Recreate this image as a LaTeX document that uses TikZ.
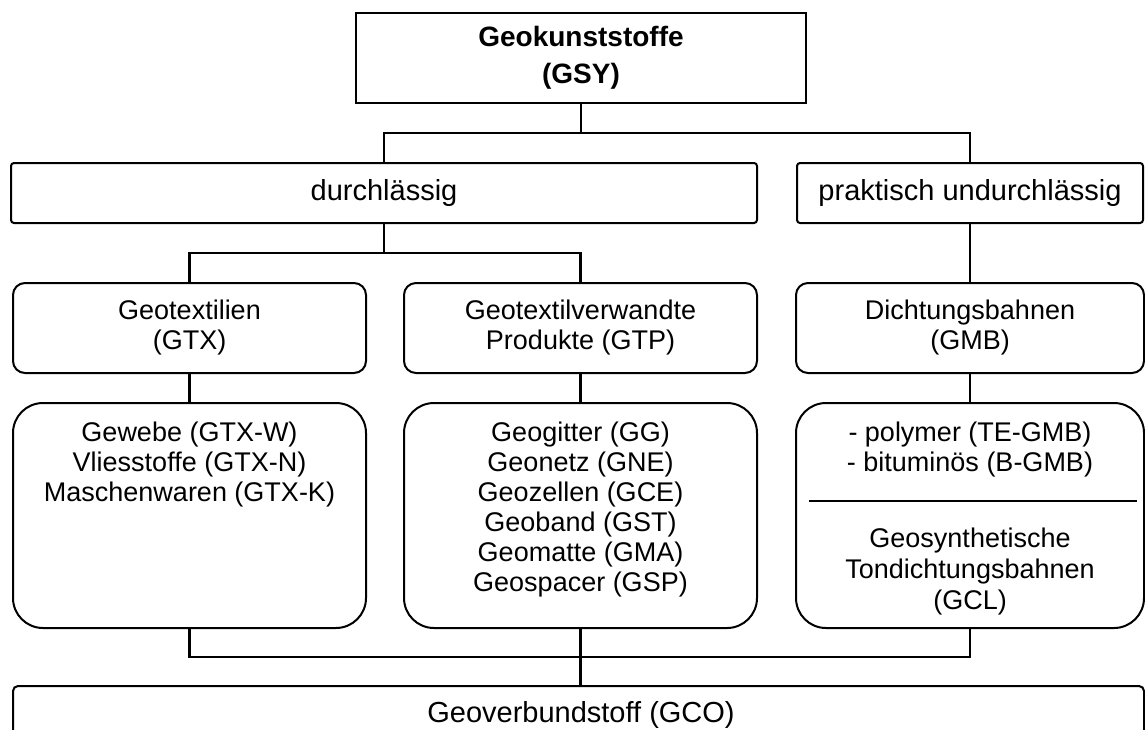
\documentclass[tikz,border=0pt]{standalone}
\usepackage{fontspec}
\setmainfont{Liberation Sans}
\newcommand\FSa{\fontsize{27}{30}\selectfont}
\newcommand\FSb{\fontsize{29}{33}\selectfont}
\newcommand\FSc{\fontsize{28}{37}\selectfont}
\begin{document}
\begin{tikzpicture}[x=1pt,y=-1pt,
  box/.style={draw, line width=2pt, inner sep=0pt, outer sep=0pt, align=center},
  rowone/.style={box, rounded corners=3pt, minimum height=60pt, font=\FSb},
  rowtwo/.style={box, rounded corners=12pt, minimum width=353pt, minimum height=90pt, font=\FSa},
  rowthree/.style={box, rounded corners=30pt, minimum width=353pt, minimum height=225pt},
  txt/.style={inner sep=0pt, outer sep=0pt, align=center, font=\FSa},
  conn/.style={line width=2.4pt}]
\useasboundingbox (0,0) rectangle (1145,729);
\clip (0,0) rectangle (1145,729);

% top
\node[box, minimum width=450pt, minimum height=90pt, font=\FSc\bfseries] (gsy) at (581,58) {Geokunststoffe\\(GSY)};

% row one
\node[rowone, minimum width=746pt] (durch) at (384,193) {durchlässig};
\node[rowone, minimum width=346pt] (prak) at (970,193) {praktisch undurchlässig};

% row two
\node[rowtwo] (gtx) at (189.5,328) {Geotextilien\\(GTX)};
\node[rowtwo] (gtp) at (580.5,328) {Geotextilverwandte\\Produkte (GTP)};
\node[rowtwo, minimum width=348pt] (gmb) at (970,328) {Dichtungsbahnen\\(GMB)};

% row three
\node[rowthree] (gtxl) at (189.5,515.5) {};
\node[rowthree] (gtpl) at (580.5,515.5) {};
\node[rowthree, minimum width=348pt] (gmbl) at (970,515.5) {};

\node[txt, anchor=north] (gtxt) at ([yshift=-19pt]gtxl.north) {Gewebe (GTX-W)\\Vliesstoffe (GTX-N)\\Maschenwaren (GTX-K)};
\node[txt, anchor=north] (gtpt) at ([yshift=-19pt]gtpl.north) {Geogitter (GG)\\Geonetz (GNE)\\Geozellen (GCE)\\Geoband (GST)\\Geomatte (GMA)\\Geospacer (GSP)};
\node[txt, anchor=north] (gmbt) at ([yshift=-19pt]gmbl.north) {- polymer (TE-GMB)\\- bituminös (B-GMB)};
\path (gmbl.center) ++(-161,-14.5) coordinate (sepL) ++(328,0) coordinate (sepR);
\draw[line width=2pt] (sepL) -- (sepR);
\node[txt, font=\fontsize{27}{31}\selectfont] (gclt) at (970,571) {Geosynthetische\\Tondichtungsbahnen\\(GCL)};

% bottom
\node[box, rounded corners=5pt, minimum width=1131pt, minimum height=84pt] (gco) at (578.5,728) {};
\node[txt, font=\FSb] (gcot) at (581,715) {Geoverbundstoff (GCO)};

% connectors
\draw[conn] (gsy.south) -- ++(0,30);
\draw[conn] (durch.north) -- ++(0,-30) -| (prak.north);
\draw[conn] (durch.south) -- ++(0,30);
\draw[conn] (gtx.north) -- ++(0,-30) -| (gtp.north);
\draw[conn] (prak.south) -- (gmb.north);
\draw[conn] (gtx.south) -- (gtxl.north);
\draw[conn] (gtp.south) -- (gtpl.north);
\draw[conn] (gmb.south) -- (gmbl.north);
\draw[conn] (gtxl.south) -- ++(0,29) -| (gmbl.south);
\draw[conn] (gtpl.south) -- (gtpl.south |- gco.north);
\end{tikzpicture}
\end{document}
